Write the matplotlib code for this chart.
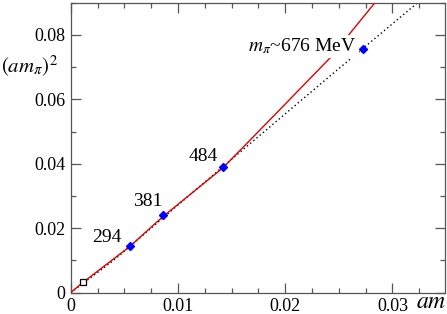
import matplotlib
matplotlib.use("Agg")

import matplotlib.pyplot as plt
from matplotlib.ticker import MultipleLocator, FixedLocator, FixedFormatter

SERIF = ["Liberation Serif", "DejaVu Serif"]
plt.rcParams["font.family"] = SERIF
plt.rcParams["mathtext.fontset"] = "stix"

# lattice data points: quark mass am vs (am_pi)^2
am_pts = [0.0055, 0.0086, 0.01422, 0.02727]
ampi2_pts = [0.0144, 0.0240, 0.03885, 0.07568]
mpi_labels = ["294", "381", "484"]
label_xy = [(0.00336, 0.01714), (0.00714, 0.02818), (0.0124, 0.04227)]

# physical point (open square)
am_phys = [0.00112]
ampi2_phys = [0.0033]

# fit curve (red)
am_fit = [0.0, 0.00112, 0.0055, 0.0086, 0.01422, 0.01904, 0.02417, 0.02612, 0.02841, 0.0295]
ampi2_fit = [0.0, 0.0031, 0.0143, 0.0236, 0.0388, 0.05524, 0.07281, 0.08081, 0.09017, 0.0950]

# leading-order line (dotted)
am_lo = [0.0, 0.0040, 0.0100, 0.0155, 0.0240, 0.0330]
ampi2_lo = [0.0, 0.0100, 0.0272, 0.0428, 0.06675, 0.0918]

fig = plt.figure(figsize=(4.47, 3.14), dpi=100)
ax = fig.add_axes([0.1582, 0.0682, 0.8373, 0.9232])

ax.plot(am_lo, ampi2_lo, color="black", lw=1.0, dashes=(1, 2), zorder=2)
ax.plot(am_fit, ampi2_fit, color="#e00000", lw=1.0, zorder=3)
ax.plot(am_pts, ampi2_pts, ls="none", marker="D", ms=4.5, color="#0000ff",
        mec="#0000ff", zorder=5)
ax.plot(am_phys, ampi2_phys, ls="none", marker="s", ms=4.5, mfc="white",
        mec="black", mew=0.9, zorder=5)

for lab, (lx, ly) in zip(mpi_labels, label_xy):
    ax.text(lx, ly, lab, fontsize=14, ha="center", va="center", family=SERIF)

ax.text(0.02668, 0.0764, r"$m_{\pi}$~676 MeV", fontsize=14, ha="right",
        va="center", zorder=4, family=SERIF,
        bbox=dict(facecolor="white", edgecolor="none", pad=1.5))

ax.set_xlim(0, 0.0349)
ax.set_ylim(0, 0.09)

ax.xaxis.set_major_locator(FixedLocator([0, 0.01, 0.02, 0.03]))
ax.xaxis.set_major_formatter(FixedFormatter(["0", "0.01", "0.02", "0.03"]))
ax.xaxis.set_minor_locator(MultipleLocator(0.0025))
ax.yaxis.set_major_locator(FixedLocator([0, 0.02, 0.04, 0.06, 0.08]))
ax.yaxis.set_major_formatter(FixedFormatter(["0", "0.02", "0.04", "0.06", "0.08"]))
ax.yaxis.set_minor_locator(MultipleLocator(0.01))

spine_color = "#555555"
for sp in ax.spines.values():
    sp.set_color(spine_color)
    sp.set_linewidth(0.9)

ax.tick_params(which="both", direction="in", top=True, right=True,
               color=spine_color, width=0.9, labelsize=13, pad=4)
ax.tick_params(which="major", length=7)
ax.tick_params(which="minor", length=3.5)
for tl in ax.get_xticklabels() + ax.get_yticklabels():
    tl.set_fontfamily(SERIF)

ax.text(-0.186, 0.78, r"$(am_{\pi})^2$", transform=ax.transAxes,
        fontsize=15, ha="left", va="center")
ax.text(1.005, -0.035, r"$am$", transform=ax.transAxes,
        fontsize=17, ha="right", va="center")

fig.savefig("out.png", dpi=100)
